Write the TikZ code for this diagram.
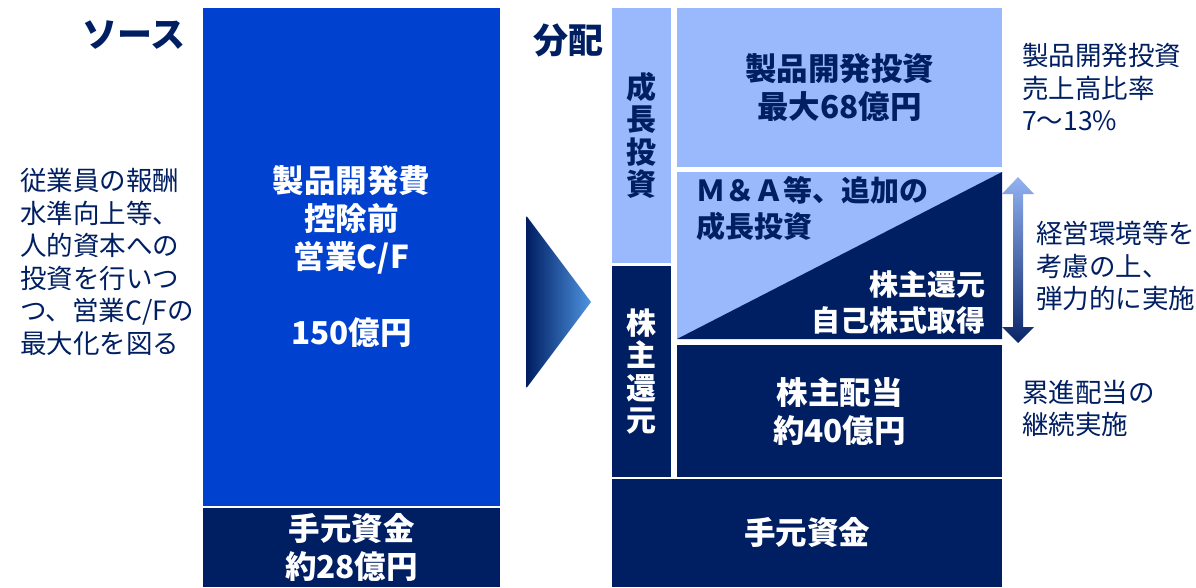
\documentclass[tikz,border=0pt]{standalone}
\usepackage{fontspec}
\newfontfamily\jp{Noto Sans CJK JP}
\definecolor{navy}{HTML}{001E62}
\definecolor{brand}{HTML}{0042CF}
\definecolor{pale}{HTML}{99B9FC}
\definecolor{glow}{HTML}{4F94E2}
\definecolor{arrowtop}{HTML}{92B2F2}
\definecolor{arrowbot}{HTML}{0A2468}
\begin{document}
\begin{tikzpicture}[x=1pt,y=-1pt,
  box/.style={rectangle,inner sep=0pt,outer sep=0pt,align=center,
    font=\jp\bfseries\fontsize{31.5}{38}\selectfont},
  vtext/.style={inner sep=0pt,align=center,font=\jp\bfseries\fontsize{30}{32.5}\selectfont},
  heading/.style={inner sep=0pt,text=navy,font=\jp\bfseries\fontsize{35}{40}\selectfont},
  note/.style={inner sep=0pt,align=left,text=navy,font=\jp\fontsize{26.5}{32.5}\selectfont},
  midtext/.style={inner sep=0pt,font=\jp\bfseries\fontsize{29}{36}\selectfont}]
\useasboundingbox (0,0) rectangle (1196,587);
% headings
\node[heading,anchor=east] (hsrc) at (186,35) {ソース};
\node[heading,anchor=east] (hdist) at (604,40) {分配};
% source side
\node[note,anchor=west] (srcnote) at (20,262) {従業員の報酬\\水準向上等、\\人的資本への\\投資を行いつ\\つ、営業C/Fの\\最大化を図る};
\node[box,fill=brand,text=white,minimum width=297pt,minimum height=498pt] (src) at (351.5,257)
  {製品開発費\\控除前\\営業C/F\\[38pt]150億円};
\node[box,fill=navy,text=white,minimum width=297pt,minimum height=79pt] (srccash) at (351.5,547.5)
  {手元資金\\約28億円};
% chevron
\shade[left color=navy,right color=glow] (526.5,216) -- (591,302) -- (526.5,388) -- cycle;
% distribution side
\node[vtext,fill=pale,text=navy,minimum width=59pt,minimum height=255pt] (grow) at (641.5,135.5)
  {成\\長\\投\\資};
\node[vtext,fill=navy,text=white,minimum width=59pt,minimum height=211pt] (ret) at (641.5,371.5)
  {株\\主\\還\\元};
\node[box,fill=pale,text=navy,minimum width=325pt,minimum height=159pt] (rnd) at (839.5,87.5)
  {製品開発投資\\最大68億円};
\node[rectangle,inner sep=0pt,outer sep=0pt,fill=pale,minimum width=325pt,minimum height=167pt] (mix) at (839.5,255.5) {};
\fill[navy] (mix.south west) -- (mix.north east) -- (mix.south east) -- cycle;
\node[midtext,anchor=west,align=left,text=navy] (ma) at (696,208.5) {Ｍ＆Ａ等、追加の\\成長投資};
\node[midtext,anchor=east,align=right,text=white] (buy) at (986,302.5) {株主還元\\自己株式取得};
\node[box,fill=navy,text=white,minimum width=325pt,minimum height=132pt] (div) at (839.5,411)
  {株主配当\\約40億円};
\node[box,fill=navy,text=white,minimum width=390pt,minimum height=108pt] (cash) at (807,533)
  {手元資金};
% double arrow
\shade[top color=arrowtop,bottom color=arrowbot]
  (1018,177) -- (1034,194) -- (1023,194) -- (1023,327) -- (1034,327) -- (1018,343)
  -- (1002,327) -- (1013,327) -- (1013,194) -- (1002,194) -- cycle;
% right notes
\node[note,anchor=west] (n1) at (1022,87.5) {製品開発投資\\売上高比率\\7〜13\%};
\node[note,anchor=west] (n2) at (1036,266) {経営環境等を\\考慮の上、\\弾力的に実施};
\node[note,anchor=west] (n3) at (1022,408.5) {累進配当の\\継続実施};
\end{tikzpicture}
\end{document}
